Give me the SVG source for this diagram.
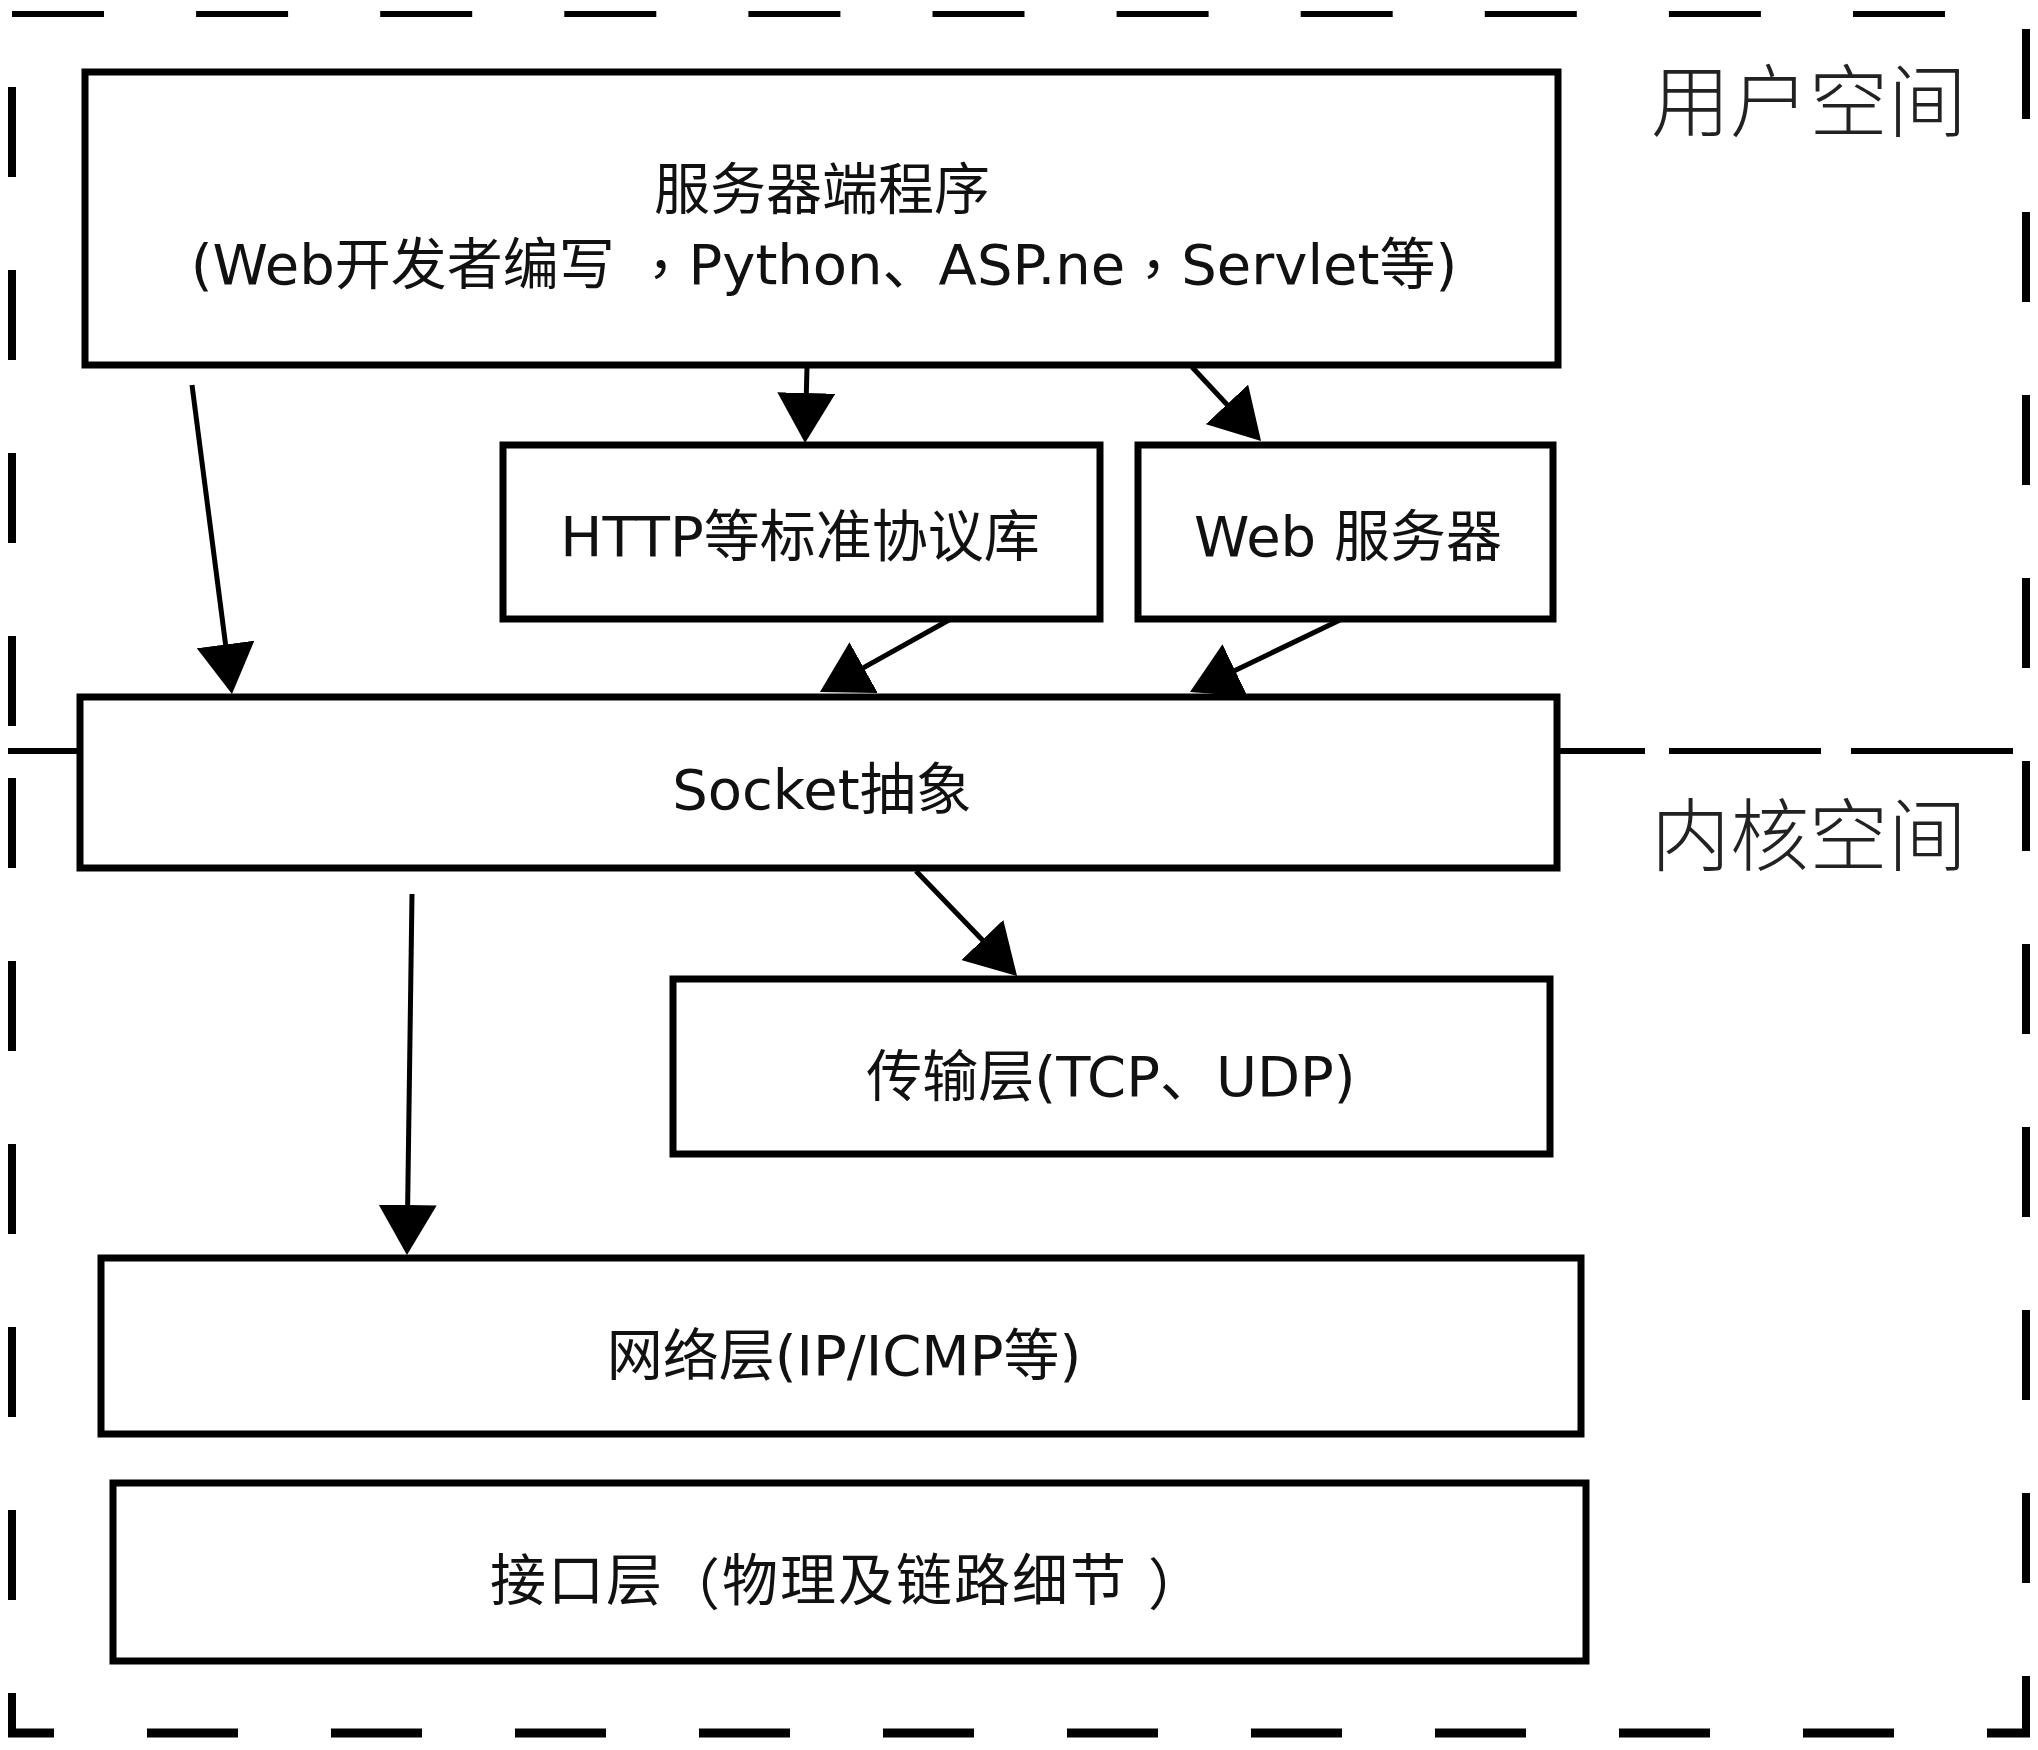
<svg xmlns="http://www.w3.org/2000/svg" width="2038" height="1750" viewBox="0 0 2038 1750">
<defs>
<style>
.box{fill:#fff;stroke:#000;stroke-width:7}
.lbl{font-family:"DejaVu Sans","Noto Sans CJK SC",sans-serif;font-size:56px;fill:#111;text-anchor:middle;dominant-baseline:central}
.zone{font-family:"Noto Sans CJK SC",sans-serif;font-size:79px;font-weight:300;fill:#222;dominant-baseline:central}
.tc{font-family:"Noto Sans CJK TC",sans-serif}
.conn{stroke:#000;stroke-width:5;fill:none;marker-end:url(#ah)}
.bord{stroke:#000;fill:none}
</style>
<marker id="ah" markerUnits="userSpaceOnUse" viewBox="0 0 52 58" markerWidth="52" markerHeight="58" refX="40" refY="29" orient="auto">
<path d="M0,0 L50,29 L0,58 z" fill="#000"/>
</marker>
</defs>
<rect width="2038" height="1750" fill="#fff"/>

<g id="border">
<line class="bord" x1="12" y1="14" x2="2000" y2="14" stroke-width="6" stroke-dasharray="92 92.1"/>
<line class="bord" x1="12" y1="87" x2="12" y2="745" stroke-width="8" stroke-dasharray="90 93"/>
<line class="bord" x1="12" y1="778" x2="12" y2="1733" stroke-width="8" stroke-dasharray="90 93"/>
<line class="bord" x1="8" y1="1733" x2="2030" y2="1733" stroke-width="9" stroke-dasharray="91 93" stroke-dashoffset="45"/>
<line class="bord" x1="2026" y1="29" x2="2026" y2="1737" stroke-width="8" stroke-dasharray="90 93"/>
<line class="bord" x1="8" y1="751" x2="82" y2="751" stroke-width="6"/>
<line class="bord" x1="1557" y1="751" x2="2014" y2="751" stroke-width="6" stroke-dasharray="88 24 152 30 162"/>
<text class="zone" x="1651" y="96">用户空间</text>
<text class="zone" x="1651" y="830">内核空间</text>
</g>

<g id="connectors">
<line class="conn" x1="192" y1="385" x2="230.7" y2="684.1"/>
<line class="conn" x1="807" y1="367" x2="805.3" y2="433"/>
<line class="conn" x1="1192" y1="367" x2="1254.2" y2="433.7"/>
<line class="conn" x1="949" y1="620" x2="828.7" y2="687.1"/>
<line class="conn" x1="1340" y1="620" x2="1199" y2="687.7"/>
<line class="conn" x1="916" y1="871" x2="1010.1" y2="968.8"/>
<line class="conn" x1="412" y1="894" x2="407.1" y2="1245"/>
</g>

<g id="server-program">
<rect class="box" x="85" y="72" width="1473" height="293"/>
<text class="lbl" x="822" y="189">服务器端程序</text>
<text class="lbl" x="824" y="264">(Web开发者编写 <tspan class="tc">，</tspan>Python、ASP.ne<tspan class="tc">，</tspan>Servlet等)</text>
</g>

<g id="http-lib">
<rect class="box" x="503" y="445" width="597" height="174"/>
<text class="lbl" x="800" y="536">HTTP等标准协议库</text>
</g>

<g id="web-server">
<rect class="box" x="1138" y="445" width="415" height="174"/>
<text class="lbl" x="1348" y="536">Web 服务器</text>
</g>

<g id="socket">
<rect class="box" x="80" y="697" width="1477" height="171"/>
<text class="lbl" x="822" y="789">Socket抽象</text>
</g>

<g id="transport">
<rect class="box" x="673" y="979" width="877" height="175"/>
<text class="lbl" x="1111" y="1076">传输层(TCP、UDP)</text>
</g>

<g id="network">
<rect class="box" x="101" y="1258" width="1480" height="176"/>
<text class="lbl" x="844" y="1355">网络层(IP/ICMP等)</text>
</g>

<g id="interface">
<rect class="box" x="113" y="1483" width="1473" height="178"/>
<text class="lbl" x="848" y="1580" letter-spacing="2">接口层<tspan class="tc">（</tspan>物理及链路细节 <tspan class="tc">）</tspan></text>
</g>
</svg>
